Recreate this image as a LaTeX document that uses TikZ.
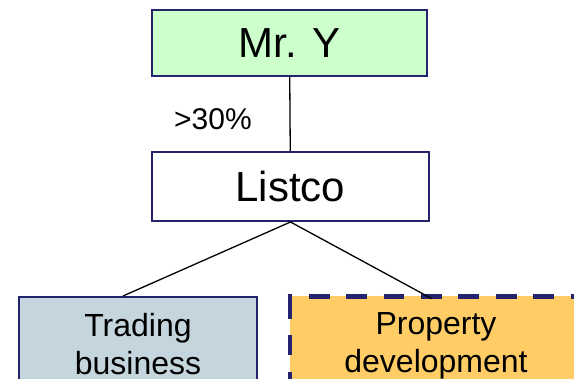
\documentclass[tikz,border=0pt]{standalone}
\usepackage{fontspec}
\setmainfont{Liberation Sans}
\definecolor{navy}{HTML}{23236E}
\definecolor{mrgreen}{HTML}{CCFFCC}
\definecolor{tradeblue}{HTML}{C4D5DE}
\definecolor{propgold}{HTML}{FFCC66}
\begin{document}
\begin{tikzpicture}[x=1pt,y=-1pt,
  box/.style={draw=navy, line width=2pt, inner sep=0pt, align=center},
  bigtext/.style={font=\fontsize{42}{48}\selectfont},
  subtext/.style={font=\fontsize{32}{38}\selectfont},
  conn/.style={draw=black, line width=1.3pt},
  dashborder/.style={draw=navy, line width=4.5pt, line cap=butt}]
\useasboundingbox (0,0) rectangle (574,379);
\clip (0,0) rectangle (574,379);
\node[box, bigtext, fill=mrgreen, minimum width=275pt, minimum height=66pt] (mry) at (289.5,43) {Mr. Y};
\node[box, bigtext, fill=white, minimum width=277pt, minimum height=69pt] (listco) at (290.5,186.5) {Listco};
\node[font=\fontsize{30}{34}\selectfont, inner sep=0pt] (pct) at (213,119) {>30\%};
\node[box, subtext, fill=tradeblue, anchor=north, minimum width=238pt, inner ysep=16pt] (trading) at (138,296) {Trading\\business};
\node[box, subtext, draw=none, fill=propgold, anchor=north, outer sep=0pt, minimum width=292pt, inner ysep=16pt] (property) at (436,296.5) {Property\\development};
\draw[dashborder, dash pattern=on 20.8pt off 16.6pt, dash phase=16.4pt] ([xshift=-2.25pt]property.north west) -- ([xshift=2pt]property.north east);
\draw[dashborder, dash pattern=on 20pt off 16.5pt] ([yshift=-2.25pt]property.north west) -- (property.south west);
\draw[conn] (mry) -- (listco);
\draw[conn] (listco.south) -- ([xshift=-15pt]trading.north);
\draw[conn] (listco.south) -- ([xshift=-4pt,yshift=-2.25pt]property.north);
\end{tikzpicture}
\end{document}
